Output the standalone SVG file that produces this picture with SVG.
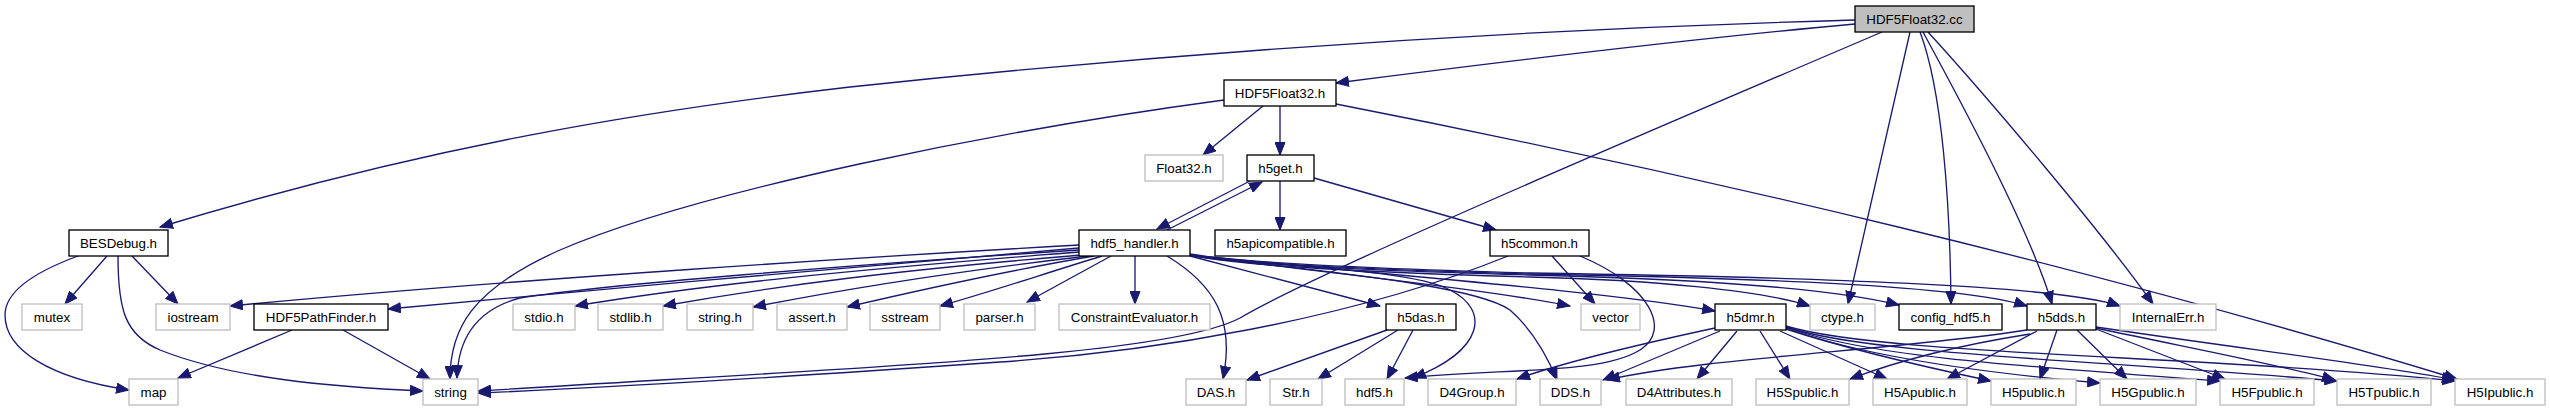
<svg xmlns="http://www.w3.org/2000/svg" width="2550" height="411" viewBox="0 0 2550 411">
<style>
.n rect{fill:#fff;stroke:#000;stroke-width:1.33}
.u rect{fill:#fff;stroke:#bfbfbf;stroke-width:1.33}
.r rect{fill:#bfbfbf;stroke:#000;stroke-width:1.33}
text{font-family:"Liberation Sans",Arial,Helvetica,sans-serif;font-size:13.33px;text-anchor:middle;fill:#000}
#edges path{fill:none;stroke:#191970;stroke-width:1.33;marker-end:url(#a)}
</style>
<defs>
<marker id="a" markerUnits="userSpaceOnUse" markerWidth="14" markerHeight="11" viewBox="0 0 14 11" refX="13" refY="5.5" orient="auto"><path d="M0.5,0.5 L13,5.5 L0.5,10.5 z" fill="#191970" stroke="#191970" stroke-width="1"/></marker>
</defs>
<rect width="2550" height="411" fill="#fff"/>
<g id="edges">
<path d="M1855,20 C1500,30 1150,55 850,87 C650,110 430,145 160,227"/>
<path d="M1855,24 C1700,38 1500,62 1336,83"/>
<path d="M1882,32 C1700,110 1320,270 1240,318 C1170,355 900,365 478,391"/>
<path d="M1910,32 L1848,304"/>
<path d="M1920,32 C1942,90 1950,200 1951,304"/>
<path d="M1923,32 C1960,100 2030,230 2052,304"/>
<path d="M1928,32 C1990,100 2100,230 2153,304"/>
<path d="M1263,106 L1203,155"/>
<path d="M1280,106 L1280,155"/>
<path d="M1224,100 C1000,130 700,190 560,250 C470,290 450,330 450,379"/>
<path d="M1336,104 C1700,175 2100,270 2457,379"/>
<path d="M1250,181 L1157,229"/>
<path d="M1167,230 L1262,182"/>
<path d="M1280,181 L1280,230"/>
<path d="M1314,178 L1496,230"/>
<path d="M107,256 L65,304"/>
<path d="M132,256 L178,304"/>
<path d="M118,256 C118,310 125,335 160,350 C230,378 330,387 423,391"/>
<path d="M78,256 C40,270 5,290 5,315 C5,350 50,378 129,390"/>
<path d="M292,330 L178,378"/>
<path d="M343,330 L430,379"/>
<path d="M1079,245 C900,255 500,280 230,306"/>
<path d="M1079,248 C900,262 600,290 388,309"/>
<path d="M1079,250 C850,265 600,285 520,298 C475,310 458,340 457,378"/>
<path d="M1079,252 C850,270 700,285 575,306"/>
<path d="M1082,255 C900,270 780,285 663,306"/>
<path d="M1088,256 C950,272 850,288 753,307"/>
<path d="M1094,256 C1000,272 920,290 847,307"/>
<path d="M1102,256 C1040,275 990,292 940,306"/>
<path d="M1111,256 L1027,302"/>
<path d="M1135,256 L1135,304"/>
<path d="M1167,256 C1215,285 1235,320 1223,379"/>
<path d="M1190,256 L1380,306"/>
<path d="M1190,255 C1260,266 1410,268 1450,290 C1490,310 1485,350 1413,378"/>
<path d="M1190,255 C1280,268 1470,282 1510,310 C1535,332 1548,358 1557,380"/>
<path d="M1190,255 C1300,270 1480,288 1570,306"/>
<path d="M1190,255 C1350,272 1600,290 1715,311"/>
<path d="M1190,255 C1230,264 1350,272 1530,277 C1650,280 1760,290 1810,306"/>
<path d="M1190,255 C1230,263 1350,270 1530,275 C1700,279 1830,288 1899,305"/>
<path d="M1190,255 C1230,262 1350,269 1530,274 C1750,278 1960,285 2027,306"/>
<path d="M1190,254 C1230,261 1350,268 1530,273 C1800,277 2060,285 2120,306"/>
<path d="M1552,256 L1595,304"/>
<path d="M1580,256 C1650,285 1672,330 1640,350 C1600,375 1500,368 1405,378"/>
<path d="M1508,256 C1350,320 1150,352 1000,362 C800,376 600,388 478,393"/>
<path d="M1387,330 L1247,380"/>
<path d="M1398,330 L1318,379"/>
<path d="M1413,330 L1387,379"/>
<path d="M1715,328 C1650,342 1570,360 1517,379"/>
<path d="M1720,331 L1603,380"/>
<path d="M1737,331 L1697,379"/>
<path d="M1760,331 L1790,379"/>
<path d="M1780,331 L1887,379"/>
<path d="M1786,329 C1850,350 1930,368 1991,381"/>
<path d="M1786,328 C1850,352 1950,370 2100,383"/>
<path d="M1786,327 C1860,355 2000,365 2220,381"/>
<path d="M1786,327 C1870,355 2100,360 2337,381"/>
<path d="M1786,326 C1880,355 2200,355 2455,381"/>
<path d="M2027,330 C1900,350 1700,358 1607,380"/>
<path d="M2030,334 C1960,345 1900,360 1850,379"/>
<path d="M2037,331 L1947,379"/>
<path d="M2057,330 L2040,379"/>
<path d="M2077,330 L2127,379"/>
<path d="M2096,329 L2225,379"/>
<path d="M2096,328 C2200,350 2280,365 2335,380"/>
<path d="M2096,327 C2250,350 2380,365 2455,380"/>
</g>
<g id="n_cc" class="r"><rect x="1855" y="6" width="119" height="26"/><text x="1914.5" y="23.5">HDF5Float32.cc</text></g>
<g id="n_HDF5Float32_h" class="n"><rect x="1224" y="80" width="112" height="26"/><text x="1280" y="97.5">HDF5Float32.h</text></g>
<g id="n_Float32_h" class="u"><rect x="1145" y="155" width="78" height="26"/><text x="1184" y="172.5">Float32.h</text></g>
<g id="n_h5get_h" class="n"><rect x="1247" y="155" width="67" height="26"/><text x="1280.5" y="172.5">h5get.h</text></g>
<g id="n_BESDebug_h" class="n"><rect x="69" y="230" width="99" height="26"/><text x="118.5" y="247.5">BESDebug.h</text></g>
<g id="n_hdf5_handler_h" class="n"><rect x="1079" y="230" width="111" height="26"/><text x="1134.5" y="247.5">hdf5_handler.h</text></g>
<g id="n_h5apicompatible_h" class="n"><rect x="1215" y="230" width="131" height="26"/><text x="1280.5" y="247.5">h5apicompatible.h</text></g>
<g id="n_h5common_h" class="n"><rect x="1490" y="230" width="99" height="26"/><text x="1539.5" y="247.5">h5common.h</text></g>
<g id="n_mutex" class="u"><rect x="22" y="304" width="60" height="26"/><text x="52" y="321.5">mutex</text></g>
<g id="n_iostream" class="u"><rect x="156" y="304" width="74" height="26"/><text x="193" y="321.5">iostream</text></g>
<g id="n_HDF5PathFinder_h" class="n"><rect x="254" y="304" width="134" height="26"/><text x="321" y="321.5">HDF5PathFinder.h</text></g>
<g id="n_stdio_h" class="u"><rect x="513" y="304" width="62" height="26"/><text x="544" y="321.5">stdio.h</text></g>
<g id="n_stdlib_h" class="u"><rect x="598" y="304" width="65" height="26"/><text x="630.5" y="321.5">stdlib.h</text></g>
<g id="n_string_h" class="u"><rect x="687" y="304" width="66" height="26"/><text x="720" y="321.5">string.h</text></g>
<g id="n_assert_h" class="u"><rect x="777" y="304" width="70" height="26"/><text x="812" y="321.5">assert.h</text></g>
<g id="n_sstream" class="u"><rect x="870" y="304" width="70" height="26"/><text x="905" y="321.5">sstream</text></g>
<g id="n_parser_h" class="u"><rect x="964" y="304" width="71" height="26"/><text x="999.5" y="321.5">parser.h</text></g>
<g id="n_ConstraintEvaluator_h" class="u"><rect x="1059" y="304" width="151" height="26"/><text x="1134.5" y="321.5">ConstraintEvaluator.h</text></g>
<g id="n_h5das_h" class="n"><rect x="1386" y="304" width="70" height="26"/><text x="1421" y="321.5">h5das.h</text></g>
<g id="n_vector" class="u"><rect x="1581" y="304" width="59" height="26"/><text x="1610.5" y="321.5">vector</text></g>
<g id="n_h5dmr_h" class="n"><rect x="1715" y="304" width="71" height="26"/><text x="1750.5" y="321.5">h5dmr.h</text></g>
<g id="n_ctype_h" class="u"><rect x="1810" y="304" width="65" height="26"/><text x="1842.5" y="321.5">ctype.h</text></g>
<g id="n_config_hdf5_h" class="n"><rect x="1899" y="304" width="103" height="26"/><text x="1950.5" y="321.5">config_hdf5.h</text></g>
<g id="n_h5dds_h" class="n"><rect x="2027" y="304" width="69" height="26"/><text x="2061.5" y="321.5">h5dds.h</text></g>
<g id="n_InternalErr_h" class="u"><rect x="2120" y="304" width="96" height="26"/><text x="2168" y="321.5">InternalErr.h</text></g>
<g id="n_map" class="u"><rect x="129" y="379" width="49" height="26"/><text x="153.5" y="396.5">map</text></g>
<g id="n_string" class="u"><rect x="423" y="379" width="55" height="26"/><text x="450.5" y="396.5">string</text></g>
<g id="n_DAS_h" class="u"><rect x="1186" y="379" width="60" height="26"/><text x="1216" y="396.5">DAS.h</text></g>
<g id="n_Str_h" class="u"><rect x="1270" y="379" width="52" height="26"/><text x="1296" y="396.5">Str.h</text></g>
<g id="n_hdf5_h" class="u"><rect x="1345" y="379" width="59" height="26"/><text x="1374.5" y="396.5">hdf5.h</text></g>
<g id="n_D4Group_h" class="u"><rect x="1428" y="379" width="88" height="26"/><text x="1472" y="396.5">D4Group.h</text></g>
<g id="n_DDS_h" class="u"><rect x="1540" y="379" width="61" height="26"/><text x="1570.5" y="396.5">DDS.h</text></g>
<g id="n_D4Attributes_h" class="u"><rect x="1626" y="379" width="106" height="26"/><text x="1679" y="396.5">D4Attributes.h</text></g>
<g id="n_H5Spublic_h" class="u"><rect x="1756" y="379" width="93" height="26"/><text x="1802.5" y="396.5">H5Spublic.h</text></g>
<g id="n_H5Apublic_h" class="u"><rect x="1873" y="379" width="94" height="26"/><text x="1920" y="396.5">H5Apublic.h</text></g>
<g id="n_H5public_h" class="u"><rect x="1991" y="379" width="85" height="26"/><text x="2033.5" y="396.5">H5public.h</text></g>
<g id="n_H5Gpublic_h" class="u"><rect x="2100" y="379" width="96" height="26"/><text x="2148" y="396.5">H5Gpublic.h</text></g>
<g id="n_H5Fpublic_h" class="u"><rect x="2220" y="379" width="94" height="26"/><text x="2267" y="396.5">H5Fpublic.h</text></g>
<g id="n_H5Tpublic_h" class="u"><rect x="2337" y="379" width="94" height="26"/><text x="2384" y="396.5">H5Tpublic.h</text></g>
<g id="n_H5Ipublic_h" class="u"><rect x="2455" y="379" width="90" height="26"/><text x="2500" y="396.5">H5Ipublic.h</text></g>
</svg>
